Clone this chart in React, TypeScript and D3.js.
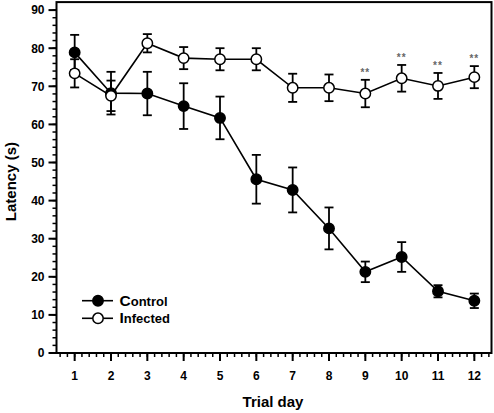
import React from "react";
import * as d3 from "d3";

const days = [1, 2, 3, 4, 5, 6, 7, 8, 9, 10, 11, 12];
const controlMean = [78.9, 68.2, 68.1, 64.8, 61.7, 45.6, 42.8, 32.7, 21.3, 25.2, 16.2, 13.7];
const controlErr = [4.6, 5.6, 5.7, 6.0, 5.6, 6.4, 5.9, 5.5, 2.7, 3.9, 1.6, 1.9];
const infectedMean = [73.4, 67.5, 81.3, 77.4, 77.1, 77.1, 69.6, 69.6, 68.1, 72.1, 70.1, 72.4];
const infectedErr = [3.7, 4.0, 2.4, 2.9, 2.9, 2.9, 3.7, 3.5, 3.6, 3.5, 3.4, 2.9];
const significant = [false, false, false, false, false, false, false, false, true, true, true, true];
const yTicks = [0, 10, 20, 30, 40, 50, 60, 70, 80, 90];
const yMinor = d3.range(0, 91, 2);
const xMinor = d3.range(0.6, 12.5, 0.2);
const seriesNames = ["Control", "Infected"];

const W = 494;
const H = 413;
const FONT = "Arial, 'Liberation Sans', Helvetica, sans-serif";

export default function App() {
  const x = d3.scaleLinear().domain([0.5, 12.5]).range([56.5, 492.5]);
  const y = d3.scaleLinear().domain([0, 90]).range([353, 10.1]);
  const line = d3
    .line<number>()
    .x((_, i) => x(days[i]))
    .y((d) => y(d));

  const series = [
    { name: seriesNames[0], mean: controlMean, err: controlErr, fill: "#000" },
    { name: seriesNames[1], mean: infectedMean, err: infectedErr, fill: "#fff" },
  ];
  const r = 5.2;
  const cap = 4.5;

  return (
    <svg
      width={W}
      height={H}
      style={{ position: "absolute", left: 0, top: 0, background: "#fff" }}
      fontFamily={FONT}
    >
      <rect x={0} y={0} width={W} height={H} fill="#fff" />
      {/* frame */}
      <rect x={x(0.5)} y={y(92.1)} width={x(12.5) - x(0.5) - 1} height={y(0) - y(92.1)} fill="none" stroke="#000" strokeWidth={2} />

      {/* y ticks */}
      {yMinor.map((v) => (
        <line key={"ym" + v} x1={x(0.5) - 4} x2={x(0.5)} y1={y(v)} y2={y(v)} stroke="#000" strokeWidth={1.5} />
      ))}
      {yTicks.map((v) => (
        <g key={"yt" + v}>
          <line x1={x(0.5) - 8} x2={x(0.5)} y1={y(v)} y2={y(v)} stroke="#000" strokeWidth={2} />
          <text x={x(0.5) - 12} y={y(v)} dy="0.36em" textAnchor="end" fontSize={12} fontWeight="bold" fill="#000">
            {v}
          </text>
        </g>
      ))}
      {/* x ticks */}
      {xMinor.map((v) => (
        <line key={"xm" + v.toFixed(1)} x1={x(v)} x2={x(v)} y1={y(0)} y2={y(0) + 4} stroke="#000" strokeWidth={1.5} />
      ))}
      {days.map((d) => (
        <g key={"xt" + d}>
          <line x1={x(d)} x2={x(d)} y1={y(0)} y2={y(0) + 8} stroke="#000" strokeWidth={2} />
          <text x={x(d)} y={379.5} textAnchor="middle" fontSize={12} fontWeight="bold" fill="#000">
            {d}
          </text>
        </g>
      ))}

      {/* axis titles */}
      <text x={273} y={407} textAnchor="middle" fontSize={15} fontWeight="bold" fill="#000">
        Trial day
      </text>
      <text transform={`translate(16,${y(45)}) rotate(-90)`} textAnchor="middle" fontSize={15} fontWeight="bold" fill="#000">
        Latency (s)
      </text>

      {/* series */}
      {series.map((s) => (
        <g key={s.name}>
          <path d={line(s.mean) || ""} fill="none" stroke="#000" strokeWidth={1.6} />
          {s.mean.map((m, i) => (
            <g key={i} stroke="#000" strokeWidth={1.8}>
              <line x1={x(days[i])} x2={x(days[i])} y1={y(m + s.err[i])} y2={y(m - s.err[i])} />
              <line x1={x(days[i]) - cap} x2={x(days[i]) + cap} y1={y(m + s.err[i])} y2={y(m + s.err[i])} />
              <line x1={x(days[i]) - cap} x2={x(days[i]) + cap} y1={y(m - s.err[i])} y2={y(m - s.err[i])} />
            </g>
          ))}
        </g>
      ))}
      {series.map((s) =>
        s.mean.map((m, i) => (
          <circle key={s.name + i} cx={x(days[i])} cy={y(m)} r={r} fill={s.fill} stroke="#000" strokeWidth={1.5} />
        ))
      )}

      {/* significance */}
      {infectedMean.map((m, i) =>
        significant[i] ? (
          <text key={"sig" + i} x={x(days[i])} y={y(m + infectedErr[i]) - 4} textAnchor="middle" fontSize={10} fontWeight="bold" fill="#666" letterSpacing={1}>
            **
          </text>
        ) : null
      )}

      {/* legend */}
      {series.map((s, i) => {
        const ly = 300.7 + i * 17.6;
        return (
          <g key={"lg" + s.name}>
            <line x1={82} x2={113} y1={ly} y2={ly} stroke="#000" strokeWidth={1.6} />
            <circle cx={98} cy={ly} r={r} fill={s.fill} stroke="#000" strokeWidth={1.5} />
            <text x={119.5} y={ly + 5} fontSize={13} fontWeight="bold" fill="#000">
              <tspan fontSize={15.5}>{s.name[0]}</tspan>
              {s.name.slice(1)}
            </text>
          </g>
        );
      })}
    </svg>
  );
}
